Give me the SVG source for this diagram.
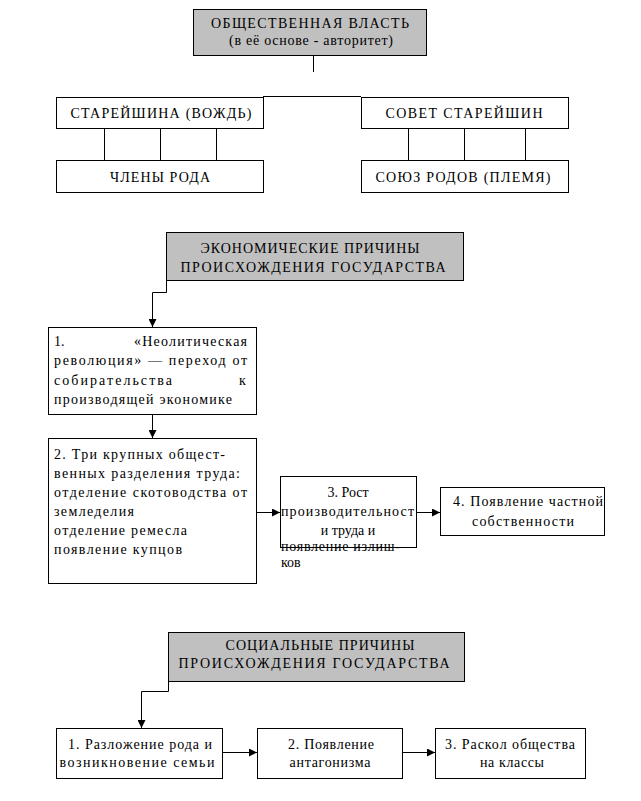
<svg xmlns="http://www.w3.org/2000/svg" width="641" height="801" viewBox="0 0 641 801" font-family="'Liberation Serif', 'DejaVu Serif', serif">
<style>
rect{stroke:#000;stroke-width:1;fill:#fff}
rect.g{fill:#c0c0c0}
text{font-family:'Liberation Serif','DejaVu Serif',serif;font-size:14px;fill:#000}
.c{text-anchor:middle}
.ln{stroke:#000;stroke-width:1;fill:none}
</style>
<defs>
<marker id="ar" markerUnits="userSpaceOnUse" markerWidth="8" markerHeight="8" refX="8" refY="4" orient="auto">
<path d="M0,0 L8,4 L0,8 z" fill="#000"/>
</marker>
</defs>
<g id="connectors">
<path class="ln" d="M313.5,55 V72"/>
<path class="ln" d="M263,96.5 H361"/>
<path class="ln" d="M104.5,128 V160 M160.5,128 V160 M216.5,128 V160"/>
<path class="ln" d="M408.5,128 V160 M464.5,128 V160 M525.5,128 V160"/>
<path class="ln" d="M166.5,280 V292.5 H152.5 V327" marker-end="url(#ar)"/>
<path class="ln" d="M152.5,414 V438" marker-end="url(#ar)"/>
<path class="ln" d="M257,512.5 H280" marker-end="url(#ar)"/>
<path class="ln" d="M416,512.5 H440" marker-end="url(#ar)"/>
<path class="ln" d="M168.5,681 V691.5 H141.5 V728" marker-end="url(#ar)"/>
<path class="ln" d="M222,752.5 H257" marker-end="url(#ar)"/>
<path class="ln" d="M402,752.5 H435" marker-end="url(#ar)"/>
</g>
<g id="n_power">
<rect class="g" x="193.5" y="9.5" width="233" height="46"/>
<text class="c" x="310" y="28" textLength="198" lengthAdjust="spacing">ОБЩЕСТВЕННАЯ ВЛАСТЬ</text>
<text class="c" x="311" y="45" textLength="164" lengthAdjust="spacing">(в её основе - авторитет)</text>
</g>
<g id="n_elder">
<rect x="56.5" y="97.5" width="207" height="31"/>
<text class="c" x="161" y="118" textLength="181" lengthAdjust="spacing">СТАРЕЙШИНА (ВОЖДЬ)</text>
</g>
<g id="n_council">
<rect x="361.5" y="97.5" width="207" height="31"/>
<text class="c" x="464" y="118" textLength="157" lengthAdjust="spacing">СОВЕТ СТАРЕЙШИН</text>
</g>
<g id="n_members">
<rect x="56.5" y="160.5" width="207" height="32"/>
<text class="c" x="160" y="182" textLength="100" lengthAdjust="spacing">ЧЛЕНЫ РОДА</text>
</g>
<g id="n_union">
<rect x="361.5" y="160.5" width="207" height="32"/>
<text class="c" x="463" y="182" textLength="175" lengthAdjust="spacing">СОЮЗ РОДОВ (ПЛЕМЯ)</text>
</g>
<g id="n_econ">
<rect class="g" x="166.5" y="232.5" width="297" height="48"/>
<text class="c" x="310" y="253" textLength="219" lengthAdjust="spacing">ЭКОНОМИЧЕСКИЕ ПРИЧИНЫ</text>
<text class="c" x="313" y="272" textLength="265" lengthAdjust="spacing">ПРОИСХОЖДЕНИЯ ГОСУДАРСТВА</text>
</g>
<g id="n_e1">
<rect x="48.5" y="327.5" width="208" height="87"/>
<text x="54" y="346">1.</text>
<text x="134" y="346" textLength="113" lengthAdjust="spacing">«Неолитическая</text>
<text x="54" y="365" textLength="193" lengthAdjust="spacing">революция» — переход от</text>
<text x="54" y="385" textLength="118" lengthAdjust="spacing">собирательства</text>
<text x="239" y="385">к</text>
<text x="54" y="404" textLength="178" lengthAdjust="spacing">производящей экономике</text>
</g>
<g id="n_e2">
<rect x="48.5" y="438.5" width="208" height="145"/>
<text x="54" y="459" textLength="171" lengthAdjust="spacing">2. Три крупных общест-</text>
<text x="54" y="478" textLength="186" lengthAdjust="spacing">венных разделения труда:</text>
<text x="54" y="497" textLength="193" lengthAdjust="spacing">отделение  скотоводства  от</text>
<text x="54" y="516" textLength="80" lengthAdjust="spacing">земледелия</text>
<text x="54" y="535" textLength="133" lengthAdjust="spacing">отделение ремесла</text>
<text x="54" y="554" textLength="128" lengthAdjust="spacing">появление купцов</text>
</g>
<g id="n_e3">
<rect x="280.5" y="476.5" width="136" height="71"/>
<text class="c" x="348" y="497">3. Рост</text>
<text x="281" y="516" textLength="133" lengthAdjust="spacing">производительност</text>
<text class="c" x="348" y="535">и труда и</text>
<text x="281" y="551" textLength="119" lengthAdjust="spacing">появление излиш-</text>
<text x="281" y="567">ков</text>
</g>
<g id="n_e4">
<rect x="440.5" y="487.5" width="164" height="48"/>
<text x="453" y="506" textLength="150" lengthAdjust="spacing">4. Появление частной</text>
<text class="c" x="523" y="526" textLength="102" lengthAdjust="spacing">собственности</text>
</g>
<g id="n_social">
<rect class="g" x="168.5" y="632.5" width="296" height="49"/>
<text class="c" x="320" y="650" textLength="189" lengthAdjust="spacing">СОЦИАЛЬНЫЕ ПРИЧИНЫ</text>
<text class="c" x="314" y="668" textLength="271" lengthAdjust="spacing">ПРОИСХОЖДЕНИЯ ГОСУДАРСТВА</text>
</g>
<g id="n_s1">
<rect x="56.5" y="728.5" width="166" height="50"/>
<text class="c" x="140" y="749" textLength="144" lengthAdjust="spacing">1. Разложение рода и</text>
<text class="c" x="137" y="767" textLength="155" lengthAdjust="spacing">возникновение семьи</text>
</g>
<g id="n_s2">
<rect x="257.5" y="728.5" width="145" height="50"/>
<text class="c" x="331" y="749" textLength="86" lengthAdjust="spacing">2. Появление</text>
<text class="c" x="330" y="767" textLength="81" lengthAdjust="spacing">антагонизма</text>
</g>
<g id="n_s3">
<rect x="435.5" y="728.5" width="150" height="50"/>
<text class="c" x="510" y="749" textLength="130" lengthAdjust="spacing">3. Раскол общества</text>
<text class="c" x="512" y="767" textLength="64" lengthAdjust="spacing">на классы</text>
</g>
</svg>
